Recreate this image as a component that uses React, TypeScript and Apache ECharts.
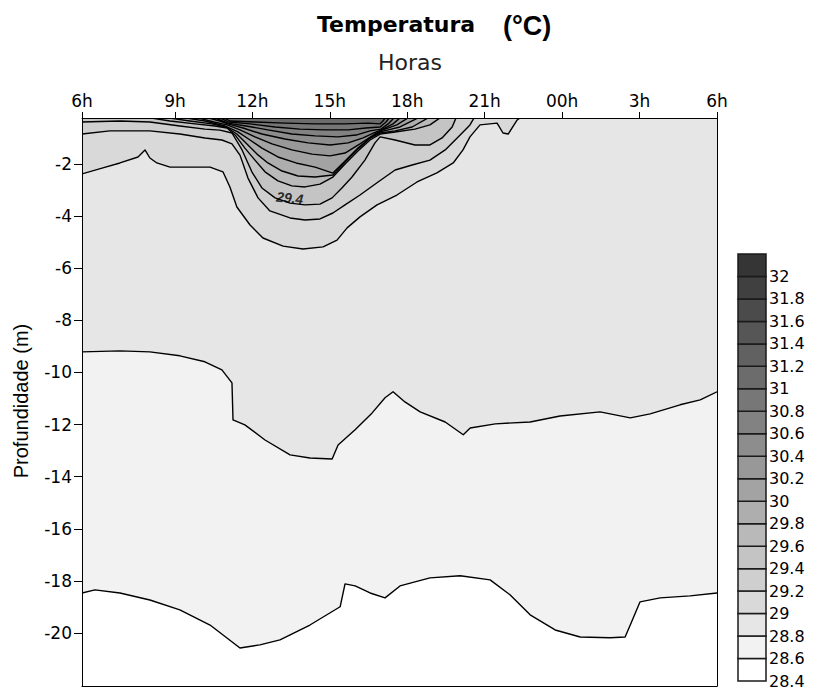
import React, { useEffect, useRef } from 'react';
import * as echarts from 'echarts';

// ---- axes (hours after 6h / depth in m) ----
const X_MIN = -0.6;
const X_MAX = 24;
const Y_MIN = -22.03;
const Y_MAX = -0.235;
const xTickHours = [-0.6, 3, 6, 9, 12, 15, 18, 21, 24];
const xTickLabels = ['6h', '9h', '12h', '15h', '18h', '21h', '00h', '3h', '6h'];
const yTickDepths = [-20, -18, -16, -14, -12, -10, -8, -6, -4, -2];

// ---- colour scale (°C) ----
const scaleMin = 28.4;
const scaleMax = 32.2;
const scaleStep = 0.2;
const bandColors = [
  '#ffffff', '#f2f2f2', '#e6e6e6', '#d9d9d9', '#cfcfcf', '#c4c4c4', '#b9b9b9',
  '#aeaeae', '#a3a3a3', '#989898', '#8d8d8d', '#828282', '#777777', '#6c6c6c',
  '#616161', '#565656', '#4b4b4b', '#404040', '#353535',
];

// ---- isotherms: [hour, depth] ----
const contourLevels = [28.6, 28.8, 29.0, 29.2, 29.4, 29.6, 29.8, 30.0, 30.2, 30.4, 30.6, 30.8, 31.0];

const iso286 = [[-0.60,-18.46],[-0.10,-18.34],[0.87,-18.46],[2.03,-18.73],[3.19,-19.11],[4.36,-19.69],[5.52,-20.57],[6.29,-20.45],[7.07,-20.26],[8.23,-19.69],[9.40,-18.99],[9.59,-18.11],[9.98,-18.19],[10.56,-18.46],[11.14,-18.65],[11.72,-18.19],[12.88,-17.88],[14.05,-17.80],[15.21,-17.96],[15.98,-18.53],[16.76,-19.30],[17.73,-19.88],[18.70,-20.15],[19.86,-20.18],[20.44,-20.15],[20.64,-19.69],[21.02,-18.80],[21.80,-18.65],[22.96,-18.57],[24.00,-18.46]];

const iso288 = [[-0.60,-9.21],[0.87,-9.17],[2.03,-9.21],[3.19,-9.36],[4.16,-9.59],[4.82,-9.90],[5.21,-10.40],[5.25,-11.82],[5.71,-12.01],[6.49,-12.59],[7.46,-13.16],[8.23,-13.28],[9.09,-13.32],[9.32,-12.78],[9.98,-12.20],[10.64,-11.55],[11.14,-10.97],[11.45,-10.74],[11.91,-11.13],[12.50,-11.51],[13.47,-11.90],[14.17,-12.39],[14.44,-12.13],[15.41,-11.97],[16.76,-11.90],[17.92,-11.67],[19.47,-11.51],[20.64,-11.74],[21.41,-11.59],[22.57,-11.24],[23.35,-11.05],[24.00,-10.74]];

const iso290 = [[-0.60,-2.38],[0.21,-2.15],[0.87,-1.96],[1.57,-1.73],[1.84,-1.46],[2.03,-1.77],[2.30,-1.96],[2.81,-2.12],[4.36,-2.12],[4.86,-2.30],[5.13,-2.88],[5.40,-3.65],[5.91,-4.34],[6.41,-4.84],[7.19,-5.15],[7.96,-5.26],[8.74,-5.18],[9.28,-4.92],[9.67,-4.45],[10.17,-4.03],[10.83,-3.57],[11.60,-3.19],[12.38,-2.69],[13.15,-2.34],[13.78,-1.96],[14.16,-1.46],[14.43,-0.96],[14.82,-0.50],[15.48,-0.43],[15.71,-0.81],[15.91,-0.85],[16.26,-0.31],[16.37,-0.23]];

const iso292 = [[-0.60,-0.85],[0.48,-0.73],[2.03,-0.73],[3.19,-0.85],[4.16,-1.00],[4.82,-1.08],[5.21,-1.23],[5.52,-1.66],[5.83,-2.54],[6.22,-3.30],[6.68,-3.80],[7.46,-4.07],[8.04,-4.15],[8.62,-4.11],[9.12,-3.88],[9.59,-3.57],[10.17,-3.19],[10.87,-2.69],[11.53,-2.23],[12.19,-2.04],[12.88,-1.85],[13.47,-1.46],[14.05,-0.89],[14.43,-0.50],[14.59,-0.23]];

const iso294 = [[-0.60,-0.39],[0.87,-0.35],[2.03,-0.39],[3.19,-0.54],[4.16,-0.66],[4.74,-0.70],[5.21,-0.81],[5.60,-1.46],[5.98,-2.30],[6.37,-2.92],[6.88,-3.30],[7.46,-3.50],[8.04,-3.57],[8.62,-3.54],[9.09,-3.30],[9.47,-2.92],[9.86,-2.50],[10.36,-1.85],[10.75,-1.19],[10.95,-0.96],[11.53,-1.08],[12.30,-1.27],[12.88,-1.27],[13.35,-1.00],[13.74,-0.58],[13.89,-0.23]];

const iso296 = [[2.03,-0.23],[2.81,-0.35],[3.78,-0.46],[4.55,-0.54],[5.02,-0.62],[5.36,-0.92],[5.71,-1.39],[6.10,-1.85],[6.49,-2.30],[6.99,-2.65],[7.53,-2.84],[8.04,-2.88],[8.62,-2.77],[9.12,-2.50],[9.59,-2.00],[10.09,-1.50],[10.56,-1.08],[10.95,-0.85],[11.53,-0.77],[12.30,-0.66],[12.88,-0.50],[13.27,-0.23]];

const iso298 = [[2.73,-0.23],[3.58,-0.35],[4.43,-0.46],[4.98,-0.58],[5.40,-0.85],[5.79,-1.23],[6.18,-1.62],[6.60,-1.96],[7.15,-2.27],[7.77,-2.46],[8.43,-2.50],[9.12,-2.42],[9.59,-1.92],[10.05,-1.46],[10.52,-1.04],[10.95,-0.81],[11.53,-0.73],[12.19,-0.58],[12.81,-0.23]];

const iso300 = [[3.39,-0.23],[4.16,-0.35],[4.93,-0.54],[5.44,-0.77],[5.91,-1.08],[6.37,-1.39],[6.99,-1.73],[7.69,-1.96],[8.43,-2.12],[9.12,-2.35],[9.63,-1.85],[10.09,-1.39],[10.56,-1.00],[10.95,-0.77],[11.72,-0.58],[12.42,-0.23]];

const iso302 = [[3.89,-0.23],[4.51,-0.39],[5.02,-0.50],[5.52,-0.69],[6.10,-0.96],[6.76,-1.23],[7.53,-1.46],[8.31,-1.62],[9.01,-1.69],[9.59,-1.58],[10.17,-1.23],[10.64,-0.92],[10.95,-0.73],[11.60,-0.50],[12.03,-0.23]];

const iso304 = [[4.28,-0.23],[4.74,-0.35],[5.05,-0.46],[5.64,-0.62],[6.37,-0.85],[7.26,-1.04],[8.16,-1.19],[9.01,-1.27],[9.71,-1.19],[10.29,-1.00],[10.71,-0.81],[10.98,-0.70],[11.45,-0.46],[11.72,-0.23]];

const iso306 = [[4.55,-0.23],[5.05,-0.43],[5.75,-0.54],[6.60,-0.69],[7.53,-0.85],[8.43,-0.92],[9.32,-0.96],[10.02,-0.89],[10.56,-0.73],[10.98,-0.66],[11.30,-0.43],[11.49,-0.23]];

const iso308 = [[4.74,-0.23],[5.09,-0.39],[5.91,-0.46],[6.88,-0.58],[7.84,-0.66],[8.81,-0.69],[9.71,-0.69],[10.40,-0.62],[10.95,-0.58],[11.18,-0.39],[11.30,-0.23]];

const iso310 = [[4.90,-0.23],[5.13,-0.35],[6.10,-0.39],[7.26,-0.43],[8.43,-0.46],[9.59,-0.46],[10.48,-0.43],[10.95,-0.46],[11.06,-0.35],[11.14,-0.23]];

const contourLines = [iso286, iso288, iso290, iso292, iso294, iso296, iso298, iso300, iso302, iso304, iso306, iso308, iso310];

const labelText = '29.4';
const labelPoint = [7.45, -3.3];

function closeRegion(line: number[][]) {
  const pts = line.slice();
  const first = pts[0];
  const last = pts[pts.length - 1];
  if (last[0] >= X_MAX - 1e-6) pts.push([X_MAX, Y_MAX]);
  if (first[0] <= X_MIN + 1e-6) pts.push([X_MIN, Y_MAX]);
  return pts;
}

function bandIndex(level: number) {
  return Math.round((level - scaleMin) / scaleStep);
}

export default function App() {
  const ref = useRef<HTMLDivElement>(null);

  useEffect(() => {
    if (!ref.current) return;
    const chart = echarts.init(ref.current, null, { renderer: 'svg' });

    const labelFont = 'DejaVu Sans';
    const fmtX = (v: number) => {
      const k = xTickHours.findIndex((t) => Math.abs(t - v) < 1e-6);
      return k >= 0 ? xTickLabels[k] : '';
    };

    const option: any = {
      animation: false,
      backgroundColor: '#ffffff',
      grid: [
        { left: 82, top: 118, width: 635, height: 568, show: false },
        { left: 738, top: 254, width: 28, height: 427, show: false },
      ],
      xAxis: [
        {
          gridIndex: 0, type: 'value', position: 'top', min: X_MIN, max: X_MAX, z: 10,
          axisLine: { show: true, onZero: false, lineStyle: { color: '#000', width: 1 } },
          axisTick: { show: true, inside: false, length: 6, customValues: xTickHours, lineStyle: { color: '#000' } },
          axisLabel: { show: true, customValues: xTickHours, formatter: fmtX, margin: 9, fontSize: 17, fontFamily: labelFont, color: '#000' },
          splitLine: { show: false },
        },
        {
          gridIndex: 0, type: 'value', position: 'bottom', min: X_MIN, max: X_MAX, z: 10,
          axisLine: { show: true, onZero: false, lineStyle: { color: '#000', width: 1 } },
          axisTick: { show: false }, axisLabel: { show: false }, splitLine: { show: false },
        },
        { gridIndex: 1, type: 'value', min: 0, max: 1, show: false },
      ],
      yAxis: [
        {
          gridIndex: 0, type: 'value', position: 'left', min: Y_MIN, max: Y_MAX, z: 10,
          axisLine: { show: true, onZero: false, lineStyle: { color: '#000', width: 1 } },
          axisTick: { show: true, inside: false, length: 8, customValues: yTickDepths, lineStyle: { color: '#000' } },
          axisLabel: { show: true, customValues: yTickDepths, margin: 10, fontSize: 17, fontFamily: labelFont, color: '#000' },
          splitLine: { show: false },
        },
        {
          gridIndex: 0, type: 'value', position: 'right', min: Y_MIN, max: Y_MAX, z: 10,
          axisLine: { show: true, onZero: false, lineStyle: { color: '#000', width: 1 } },
          axisTick: { show: false }, axisLabel: { show: false }, splitLine: { show: false },
        },
        {
          gridIndex: 1, type: 'value', position: 'right', min: scaleMin, max: scaleMax, interval: scaleStep,
          axisLine: { show: false }, axisTick: { show: false }, splitLine: { show: false },
          axisLabel: {
            show: true, margin: 3, fontSize: 16, fontFamily: labelFont, color: '#000',
            formatter: (v: number) => (v > 32.1 ? '' : String(Math.round(v * 10) / 10)),
          },
        },
      ],
      graphic: [
        { type: 'text', x: 317, y: 24, style: { text: 'Temperatura', font: 'bold 22px "DejaVu Sans"', fill: '#000', align: 'left', verticalAlign: 'middle', textAlign: 'left', textVerticalAlign: 'middle' } },
        { type: 'text', x: 503, y: 26, style: { text: '(°C)', font: 'bold 27px "Liberation Sans"', fill: '#000', align: 'left', verticalAlign: 'middle', textAlign: 'left', textVerticalAlign: 'middle' } },
        { type: 'text', x: 378, y: 62, style: { text: 'Horas', font: '22px "DejaVu Sans"', fill: '#222', align: 'left', verticalAlign: 'middle', textAlign: 'left', textVerticalAlign: 'middle' } },
        { type: 'text', x: 21, y: 401, rotation: Math.PI / 2, style: { text: 'Profundidade (m)', font: '20px "Liberation Sans"', fill: '#000', align: 'center', verticalAlign: 'middle', textAlign: 'center', textVerticalAlign: 'middle' } },
      ],
      series: [
        {
          type: 'custom', name: 'fills', xAxisIndex: 0, yAxisIndex: 0, z: 2, clip: true,
          data: contourLines.map((line, i) => [line[0][0], line[0][1], contourLevels[i]]),
          renderItem: (params: any, api: any) => {
            const i = params.dataIndex;
            const pts = closeRegion(contourLines[i]).map((p) => api.coord(p));
            return {
              type: 'polygon',
              shape: { points: pts },
              style: { fill: bandColors[bandIndex(contourLevels[i])], stroke: null, lineWidth: 0 },
            };
          },
        },
        {
          type: 'custom', name: 'isolines', xAxisIndex: 0, yAxisIndex: 0, z: 3, clip: true,
          data: contourLines.map((line, i) => [line[0][0], line[0][1], contourLevels[i]]),
          renderItem: (params: any, api: any) => {
            const i = params.dataIndex;
            const pts = contourLines[i].map((p) => api.coord(p));
            return {
              type: 'polyline',
              shape: { points: pts },
              style: { stroke: '#000', lineWidth: 1.4, fill: null, lineJoin: 'round' },
            };
          },
        },
        {
          type: 'scatter', name: 'label', xAxisIndex: 0, yAxisIndex: 0, z: 4,
          symbolSize: 1, itemStyle: { color: 'rgba(0,0,0,0)' },
          data: [labelPoint],
          label: {
            show: true, position: 'inside', formatter: labelText, fontSize: 14, fontWeight: 'bold',
            fontStyle: 'italic', fontFamily: 'Liberation Sans', color: '#000', rotate: -6,
          },
        },
        {
          type: 'custom', name: 'colorbar', xAxisIndex: 2, yAxisIndex: 2, z: 2,
          data: bandColors.map((c, i) => [0.5, scaleMin + (i + 0.5) * scaleStep]),
          renderItem: (params: any, api: any) => {
            const i = params.dataIndex;
            const lo = scaleMin + i * scaleStep;
            const hi = lo + scaleStep;
            const p0 = api.coord([0, hi]);
            const p1 = api.coord([1, lo]);
            return {
              type: 'rect',
              shape: { x: p0[0], y: p0[1], width: p1[0] - p0[0], height: p1[1] - p0[1] },
              style: { fill: bandColors[i], stroke: '#1a1a1a', lineWidth: 1.5 },
            };
          },
        },
      ],
    };

    chart.setOption(option);
    return () => chart.dispose();
  }, []);

  return (
    <div
      ref={ref}
      style={{ position: 'fixed', left: 0, top: 0, width: 814, height: 689, background: '#fff' }}
    />
  );
}
